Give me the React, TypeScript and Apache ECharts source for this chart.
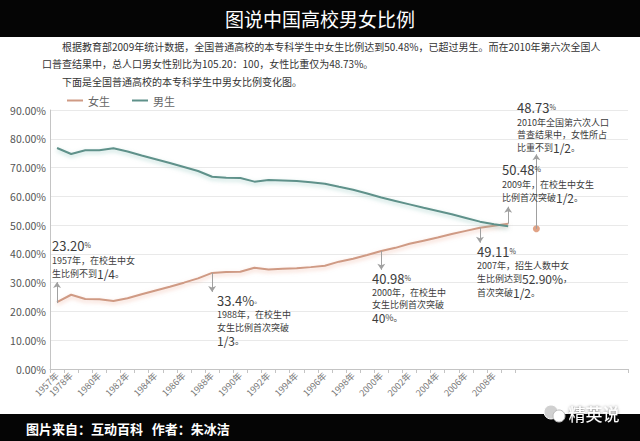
import React, { useEffect, useRef } from "react";
import * as echarts from "echarts";

const years = [
  1957, 1978, 1979, 1980, 1981, 1982, 1983, 1984, 1985, 1986, 1987, 1988, 1989,
  1990, 1991, 1992, 1993, 1994, 1995, 1996, 1997, 1998, 1999, 2000, 2001, 2002,
  2003, 2004, 2005, 2006, 2007, 2008, 2009,
];
const femaleShare = [
  23.2, 25.8, 24.3, 24.2, 23.6, 24.6, 26.0, 27.3, 28.6, 30.0, 31.5, 33.4, 33.7,
  33.8, 35.2, 34.6, 34.8, 35.0, 35.4, 35.9, 37.3, 38.3, 39.6, 40.98, 42.1, 43.5,
  44.6, 45.7, 46.9, 48.0, 49.11, 49.8, 50.48,
];
const maleShare = [
  76.8, 74.7, 76.0, 76.0, 76.7, 75.6, 74.2, 72.9, 71.6, 70.2, 68.8, 66.8, 66.5,
  66.4, 65.1, 65.7, 65.5, 65.3, 64.9, 64.4, 63.3, 62.3, 61.0, 59.6, 58.4, 57.2,
  56.0, 54.9, 53.8, 52.5, 51.2, 50.3, 49.6,
];
const padCategories = ["", " ", "  ", "   ", "    ", "     ", "      ", "       "];
const censusPoint = [34, 48.73];
// arrows: [categoryIndex, fromValue, toValue]
const arrows = [
  [0, 22.9, 30.2],
  [11, 33.4, 26.8],
  [23, 40.98, 34.5],
  [30, 49.11, 43.9],
  [32, 50.48, 56.4],
  [34, 48.73, 74.6],
];
const yMin = 0;
const yMax = 90;
const yStep = 10;

const legendNames = ["女生", "男生"];
const titleText = "图说中国高校男女比例";
const bodyLines = [
  "根据教育部2009年统计数据，全国普通高校的本专科学生中女生比例达到50.48%，已超过男生。而在2010年第六次全国人",
  "口普查结果中，总人口男女性别比为105.20：100，女性比重仅为48.73%。",
  "下面是全国普通高校的本专科学生中男女比例变化图。",
];
const footerText = "图片来自：互动百科   作者：朱冰洁";
const watermark = "精英说";

const annotations: [number, number, string][] = [
  [52, 245, "{b|23.20}{s|%}"],
  [52, 260, "1957年，在校生中女"],
  [52, 273, "生比例不到{m|1/4}。"],
  [217, 300, "{b|33.4%}{s|。}"],
  [217, 314, "1988年，在校生中"],
  [217, 327, "女生比例首次突破"],
  [217, 340, "{m|1/3}。"],
  [372, 278, "{b|40.98}{s|%}"],
  [372, 292, "2000年，在校生中"],
  [372, 304, "女生比例首次突破"],
  [372, 317, "{m|40}%。"],
  [477, 251, "{b|49.11}{s|%}"],
  [477, 265, "2007年，招生人数中女"],
  [477, 278, "生比例达到{m|52.90%}，"],
  [477, 292, "首次突破{m|1/2}。"],
  [502, 169, "{b|50.48}{s|%}"],
  [502, 184, "2009年，在校生中女生"],
  [502, 197, "比例首次突破{m|1/2}。"],
  [517, 107, "{b|48.73}{s|%}"],
  [517, 122, "2010年全国第六次人口"],
  [517, 134, "普查结果中，女性所占"],
  [517, 147, "比重不到{m|1/2}。"],
];

const FONT = "'Noto Sans CJK SC', 'Noto Sans', sans-serif";
const FEMALE = "#cf9a84";
const MALE = "#5f918a";

export default function App() {
  const ref = useRef<HTMLDivElement>(null);
  useEffect(() => {
    document.body.style.margin = "0";
    if (!ref.current) return;
    const chart = echarts.init(ref.current, undefined, { renderer: "svg" });
    const categories = years.map((y) => `${y}年`).concat(padCategories);
    const textColor = "#3c3c3c";
    const rich = {
      b: { fontSize: 13, lineHeight: 13, fill: textColor, fontFamily: FONT },
      s: { fontSize: 7, lineHeight: 11, fill: textColor, fontFamily: FONT },
      m: { fontSize: 12, lineHeight: 11, fill: textColor, fontFamily: FONT },
    };
    const graphic: any[] = [
      { type: "rect", shape: { x: 0, y: 0, width: 640, height: 37 }, style: { fill: "#050505" }, z: 10 },
      {
        type: "text", x: 320, y: 18, z: 11,
        style: { text: titleText, fill: "#ffffff", fontSize: 19, fontFamily: FONT, align: "center", verticalAlign: "middle" },
      },
      ...bodyLines.map((t, i) => ({
        type: "text", x: i === 1 ? 42 : 62, y: [46, 63, 81][i], z: 11,
        style: { text: t, fill: "#333333", fontSize: 10, fontFamily: FONT, align: "left", verticalAlign: "middle" },
      })),
      { type: "rect", shape: { x: 0, y: 414, width: 640, height: 27 }, style: { fill: "#050505" }, z: 10 },
      {
        type: "text", x: 26, y: 428, z: 11,
        style: { text: footerText, fill: "#ffffff", fontSize: 13, fontWeight: "bold", fontFamily: FONT, align: "left", verticalAlign: "middle" },
      },
      { type: "circle", shape: { cx: 551, cy: 412, r: 7 }, style: { fill: "#d0d0d0", stroke: "#ffffff", lineWidth: 1 }, z: 11 },
      { type: "circle", shape: { cx: 559, cy: 416, r: 6 }, style: { fill: "#ffffff", stroke: "#bbbbbb", lineWidth: 1 }, z: 11 },
      {
        type: "text", x: 594, y: 413, z: 11,
        style: {
          text: watermark, fill: "#ffffff", fontSize: 17, fontFamily: FONT, align: "center", verticalAlign: "middle",
          textShadowColor: "rgba(0,0,0,0.6)", textShadowBlur: 3,
        },
      },
      ...annotations.map(([x, y, t]) => ({
        type: "text", x, y, z: 11,
        style: { text: t, fill: textColor, fontSize: 9, lineHeight: 11, fontFamily: FONT, align: "left", verticalAlign: "middle", rich },
      })),
    ];

    chart.setOption({
      animation: false,
      backgroundColor: "#ffffff",
      textStyle: { fontFamily: FONT },
      grid: { left: 50, right: 12, top: 110, bottom: 72, containLabel: false },
      legend: {
        data: legendNames.map((n) => ({ name: n, icon: "rect" })),
        left: 62,
        top: 90,
        itemWidth: 16,
        itemHeight: 2,
        itemGap: 22,
        textStyle: { color: "#666666", fontSize: 11, fontFamily: FONT },
      },
      xAxis: {
        type: "category",
        data: categories,
        boundaryGap: true,
        axisLine: { lineStyle: { color: "#c4c4c4" } },
        axisTick: {
          show: true,
          length: 4,
          interval: (i: number) => i <= years.length,
          lineStyle: { color: "#c4c4c4" },
        },
        axisLabel: {
          interval: (i: number) => i === 0 || (i < years.length && years[i] % 2 === 0),
          rotate: 45,
          fontSize: 9,
          color: "#777777",
          margin: 5,
        },
        splitLine: { show: false },
      },
      yAxis: {
        type: "value",
        min: yMin,
        max: yMax,
        interval: yStep,
        axisLine: { show: true, lineStyle: { color: "#c4c4c4" } },
        axisTick: { show: false },
        axisLabel: {
          formatter: (v: number) => v.toFixed(2) + "%",
          fontSize: 10.5,
          color: "#555555",
          margin: 4,
        },
        splitLine: { lineStyle: { color: "#e9e9e9" } },
      },
      series: [
        {
          name: legendNames[0],
          type: "line",
          data: femaleShare,
          symbol: "none",
          itemStyle: { color: FEMALE },
          lineStyle: { color: FEMALE, width: 2, shadowColor: "rgba(235,160,135,0.55)", shadowBlur: 4, shadowOffsetY: 2 },
          markLine: {
            silent: true,
            symbol: ["none", "arrow"],
            symbolSize: 6,
            label: { show: false },
            lineStyle: { color: "#a0a0a0", width: 1, type: "solid" },
            emphasis: { disabled: true },
            data: arrows.map(([i, a, b]) => [{ coord: [i, a] }, { coord: [i, b] }]),
          },
        },
        {
          name: legendNames[1],
          type: "line",
          data: maleShare,
          symbol: "none",
          itemStyle: { color: MALE },
          lineStyle: { color: MALE, width: 2, shadowColor: "rgba(120,185,175,0.55)", shadowBlur: 4, shadowOffsetY: 2 },
        },
        {
          type: "scatter",
          data: [censusPoint],
          symbolSize: 7,
          itemStyle: { color: "#d98c68" },
        },
      ],
      graphic,
    });
    return () => chart.dispose();
  }, []);
  return <div ref={ref} style={{ width: 640, height: 441 }} />;
}
